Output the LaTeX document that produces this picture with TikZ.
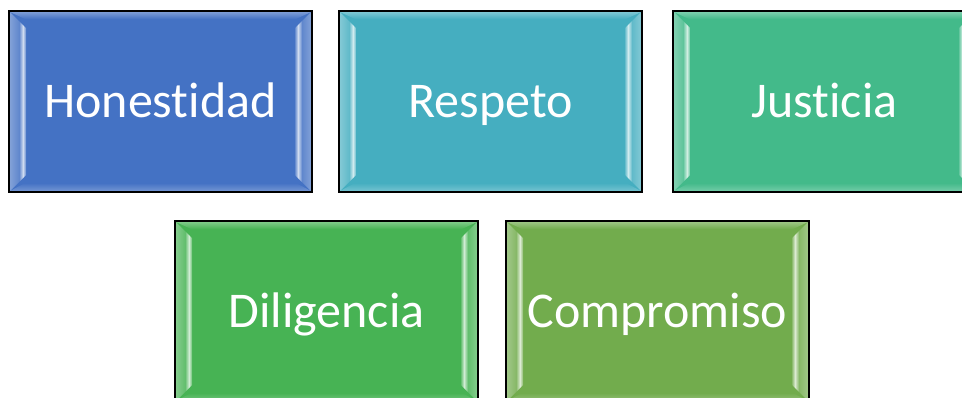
\documentclass[tikz,border=0pt]{standalone}
\usepackage{fontspec}
\setmainfont{Carlito}[Ligatures={NoCommon}]
\usetikzlibrary{calc}
\definecolor{chon}{HTML}{4472C4}
\definecolor{cres}{HTML}{45AEC0}
\definecolor{cjus}{HTML}{43BA8A}
\definecolor{cdil}{HTML}{47B354}
\definecolor{ccom}{HTML}{72AC4D}
\newcommand\valbevel[1]{%
  \coordinate (bnw) at (path picture bounding box.north west);
  \coordinate (bne) at (path picture bounding box.north east);
  \coordinate (bsw) at (path picture bounding box.south west);
  \coordinate (bse) at (path picture bounding box.south east);
  % top band
  \shade[top color=#1!70!white, bottom color=#1]
    ($(bnw)+(1,1)$) -- ($(bne)+(-1,1)$) -- ($(bne)+(-16,8)$) -- ($(bnw)+(16,8)$) -- cycle;
  % bottom band
  \shade[top color=#1, bottom color=#1!75!white]
    ($(bsw)+(16,-9)$) -- ($(bse)+(-16,-9)$) -- ($(bse)+(-1,-1)$) -- ($(bsw)+(1,-1)$) -- cycle;
  % left strip
  \begin{scope}
    \clip ($(bnw)+(1,1)$) -- ($(bnw)+(17,17)$) -- ($(bsw)+(17,-17)$) -- ($(bsw)+(1,-1)$) -- cycle;
    \shade[left color=#1!65!white, right color=#1!85!white] ($(bnw)+(0,0)$) rectangle ($(bsw)+(10,0)$);
    \shade[left color=#1!85!white, right color=#1!25!white] ($(bnw)+(10,0)$) rectangle ($(bsw)+(14,0)$);
    \shade[left color=#1!25!white, right color=#1] ($(bnw)+(14,0)$) rectangle ($(bsw)+(18,0)$);
  \end{scope}
  % right strip
  \begin{scope}
    \clip ($(bne)+(-1,1)$) -- ($(bne)+(-17,17)$) -- ($(bse)+(-17,-17)$) -- ($(bse)+(-1,-1)$) -- cycle;
    \shade[right color=#1!65!white, left color=#1!85!white] ($(bne)+(-10,0)$) rectangle ($(bse)+(0,0)$);
    \shade[right color=#1!85!white, left color=#1!25!white] ($(bne)+(-14,0)$) rectangle ($(bse)+(-10,0)$);
    \shade[right color=#1!25!white, left color=#1] ($(bne)+(-18,0)$) rectangle ($(bse)+(-14,0)$);
  \end{scope}
}
\tikzset{
  valbox/.style={draw=black, line width=2pt, minimum width=303pt,
    minimum height=181pt, inner sep=0pt, text=white,
    text height=32pt, text depth=0pt,
    font=\fontsize{50}{60}\selectfont, fill=#1,
    path picture={\valbevel{#1}}},
}
\begin{document}
\begin{tikzpicture}[x=1pt, y=-1pt]
  \useasboundingbox (0,0) rectangle (962,397);
  \clip (0,0) rectangle (962,397);
  \node[valbox=chon] (hon) at (160.5,101.5) {Honestidad};
  \node[valbox=cres] (res) at (490.5,101.5) {Respeto};
  \node[valbox=cjus] (jus) at (824.5,101.5) {Justicia};
  \node[valbox=cdil] (dil) at (326.5,311.5) {Diligencia};
  \node[valbox=ccom] (com) at (657.5,311.5) {Compromiso};
\end{tikzpicture}
\end{document}
